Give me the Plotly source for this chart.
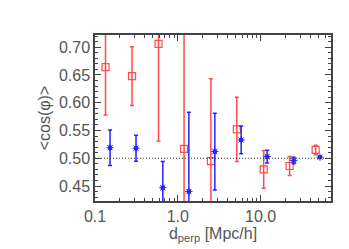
import plotly.graph_objects as go

# Red series (open squares)
red_x = [0.134, 0.28, 0.585, 1.19, 2.51, 5.16, 10.9, 22.4, 46.2]
red_y = [0.664, 0.648, 0.706, 0.517, 0.495, 0.552, 0.480, 0.486, 0.515]
red_err = [0.086, 0.053, 0.175, 0.25, 0.148, 0.058, 0.034, 0.017, 0.0085]

# Blue series (asterisks)
blue_x = [0.152, 0.313, 0.659, 1.36, 2.80, 5.82, 12.0, 25.1, 52.1]
blue_y = [0.519, 0.518, 0.447, 0.440, 0.512, 0.533, 0.503, 0.496, 0.502]
blue_err = [0.032, 0.0235, 0.047, 0.143, 0.069, 0.025, 0.0115, 0.006, 0.002]

x_tickvals = [0.1, 1, 10]
x_ticktext = ["0.1", "1.0", "10.0"]
y_tickvals = [0.45, 0.50, 0.55, 0.60, 0.65, 0.70]

RED = "rgb(255,75,75)"
BLUE = "rgb(35,35,255)"
AX = "#444444"
TXT = "#555555"

fig = go.Figure()

# reference line at 0.5
fig.add_shape(type="line", xref="paper", x0=0, x1=1, yref="y", y0=0.5, y1=0.5,
              line=dict(color="#333333", width=1, dash="1px,2px"))

fig.add_trace(go.Scatter(
    x=red_x, y=red_y, mode="markers",
    marker=dict(symbol="square-open", size=7, color=RED, line=dict(width=1.2, color=RED)),
    error_y=dict(type="data", array=red_err, visible=True, color=RED, thickness=1.5, width=2),
    showlegend=False, cliponaxis=True))

fig.add_trace(go.Scatter(
    x=blue_x, y=blue_y, mode="markers",
    marker=dict(symbol="asterisk-open", size=6, color=BLUE, line=dict(width=1, color=BLUE)),
    error_y=dict(type="data", array=blue_err, visible=True, color=BLUE, thickness=1.5, width=2),
    showlegend=False, cliponaxis=True))
fig.add_trace(go.Scatter(
    x=blue_x, y=blue_y, mode="markers",
    marker=dict(symbol="square", size=4, color=BLUE),
    showlegend=False, cliponaxis=True))

fig.update_layout(
    width=349, height=249,
    margin=dict(l=87, r=26, t=27, b=56),
    paper_bgcolor="white", plot_bgcolor="white",
    font=dict(family="Liberation Sans, Arial, sans-serif", size=16, color=TXT),
)

fig.update_xaxes(
    type="log", range=[-1, 1.85],
    tickvals=x_tickvals, ticktext=x_ticktext,
    ticks="inside", ticklen=6, tickwidth=1, tickcolor=AX,
    minor=dict(ticks="inside", ticklen=3, tickwidth=1, tickcolor=AX, dtick="D1", showgrid=False),
    showline=True, linecolor=AX, linewidth=1.5, mirror="ticks",
    showgrid=False, zeroline=False,
    tickfont=dict(size=16, color=TXT),
    title=dict(text="d<sub>perp</sub> [Mpc/h]", font=dict(size=16, color=TXT), standoff=2),
)

fig.update_yaxes(
    range=[0.423, 0.722],
    tickvals=y_tickvals, tickformat=".2f",
    ticks="inside", ticklen=6, tickwidth=1, tickcolor=AX,
    minor=dict(ticks="inside", ticklen=3, tickwidth=1, tickcolor=AX, dtick=0.01, showgrid=False),
    showline=True, linecolor=AX, linewidth=1.5, mirror="ticks",
    showgrid=False, zeroline=False,
    tickfont=dict(size=16, color=TXT),
    title=dict(text="<cos(φ)>", font=dict(size=16, color=TXT), standoff=4),
)

fig.write_html("out.html")
